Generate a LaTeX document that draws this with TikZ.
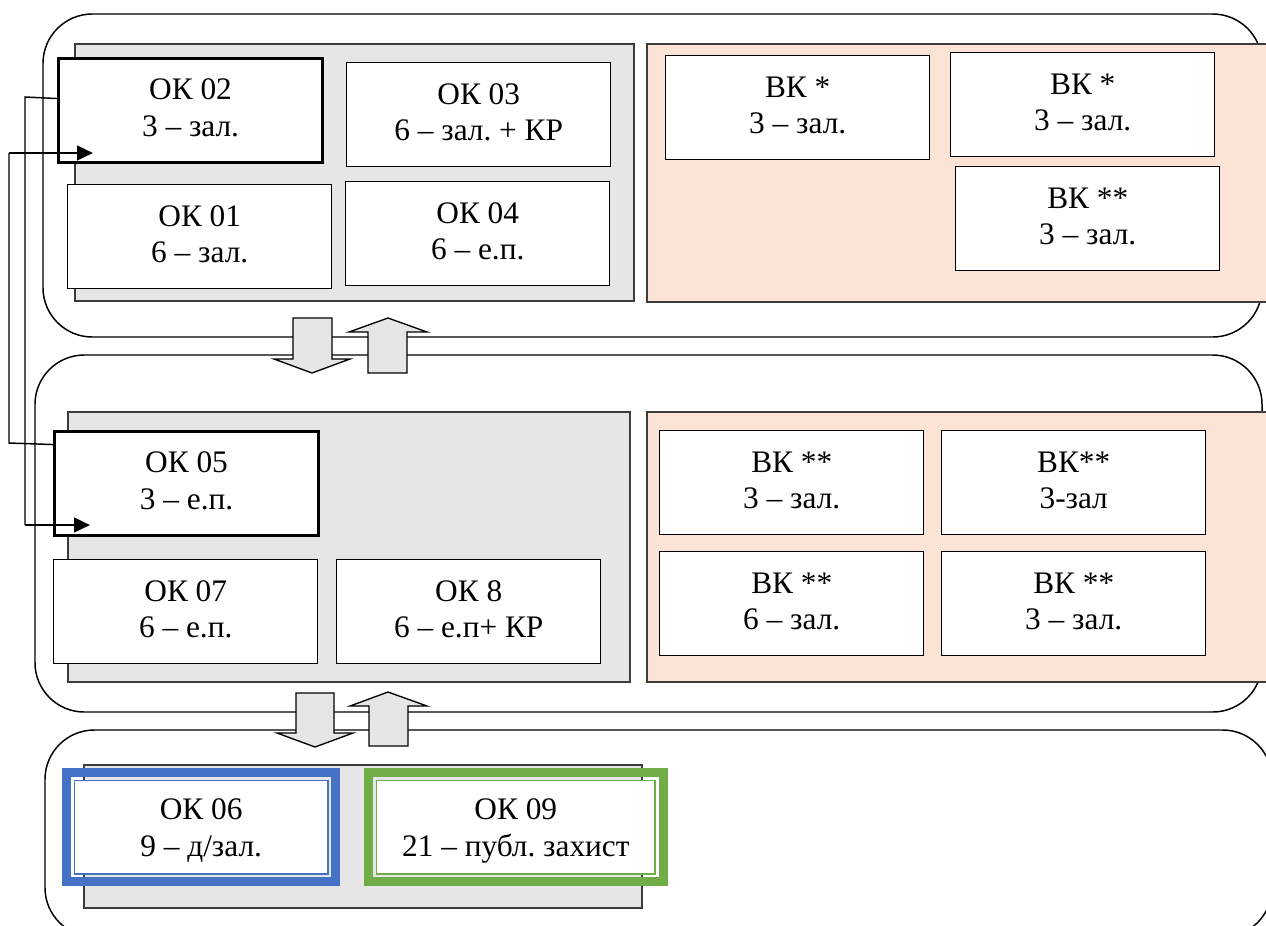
\documentclass[tikz,border=0pt]{standalone}
\usepackage{fontspec}
\setmainfont{Liberation Serif}
\usetikzlibrary{arrows.meta,calc,positioning}
\definecolor{panelgray}{RGB}{230,230,230}
\definecolor{panelpink}{RGB}{251,228,214}
\definecolor{framegray}{RGB}{60,60,60}
\definecolor{ok06color}{RGB}{68,114,196}
\definecolor{ok09color}{RGB}{112,173,71}
\frenchspacing

\begin{document}
\begin{tikzpicture}[
        x=0.75pt, y=-0.75pt,
        stage/.style={draw=black, line width=1.1pt, rounded corners=37pt},
        panel/.style={draw=framegray, line width=1pt},
        okbox/.style={rectangle, draw=black, line width=1.1pt, fill=white, minimum width=198pt, minimum height=78pt, inner sep=0pt, align=center, anchor=north west, text height=47.5pt, text depth=8.5pt, font=\fontsize{23.5}{27.5}\selectfont},
        mainbox/.style={okbox, line width=2.3pt},
        dblbox/.style={okbox, draw=#1, line width=1.1pt, minimum height=70pt, text depth=3.7pt},
        dblframe/.style={draw=#1, line width=6.75pt},
        blockarrow/.style={draw=black, line width=1pt, fill=panelgray, line join=miter},
        link/.style={line width=1.1pt},
        linkarrow/.style={line width=1.9pt, -{Triangle[length=12pt,width=11pt]}}
    ]
        \useasboundingbox (0,0) rectangle (1266,925);
        \clip (0,0) rectangle (1266,925);

        % three stages
        \draw[stage] (43,14) rectangle (1262,337);
        \draw[stage] (35,355) rectangle (1262,712);
        \draw[stage] (45,730) rectangle (1272,937);

        % panels
        \draw[panel, fill=panelgray] (75,44) rectangle (634,301);
        \draw[panel, fill=panelpink] (647,44) rectangle (1275,302);
        \draw[panel, fill=panelgray] (68,412) rectangle (630,682);
        \draw[panel, fill=panelpink] (647,412) rectangle (1275,682);
        \draw[panel, fill=panelgray] (84,765) rectangle (642,908);

        % first stage
        \node[mainbox] (ok02) at (57,57) {ОК 02\\3 – зал.};
        \node[okbox] (ok03) at (346,62) {ОК 03\\6 – зал. + КР};
        \node[okbox] (ok01) at (67,184) {ОК 01\\6 – зал.};
        \node[okbox] (ok04) at (345,181) {ОК 04\\6 – е.п.};
        \node[okbox] (vk1) at (665,55) {ВК *\\3 – зал.};
        \node[okbox] (vk2) at (950,52) {ВК *\\3 – зал.};
        \node[okbox] (vk3) at (955,166) {ВК **\\3 – зал.};

        % second stage
        \node[mainbox] (ok05) at (53,430) {ОК 05\\3 – е.п.};
        \node[okbox] (ok07) at (53,559) {ОК 07\\6 – е.п.};
        \node[okbox] (ok8) at (336,559) {ОК 8\\6 – е.п+ КР};
        \node[okbox] (vk4) at (659,430) {ВК **\\3 – зал.};
        \node[okbox] (vk5) at (941,430) {ВК**\\3-зал};
        \node[okbox] (vk6) at (659,551) {ВК **\\6 – зал.};
        \node[okbox] (vk7) at (941,551) {ВК **\\3 – зал.};

        % third stage
        \node[dblbox=ok06color, minimum width=190pt] (ok06) at (73.75,779.75) {ОК 06\\9 – д/зал.};
        \node[dblbox=ok09color, minimum width=209pt] (ok09) at (375.75,779.75) {ОК 09\\21 – публ. захист};
        \draw[dblframe=ok06color] ($(ok06.north west)+(-7.25,-7.25)$) rectangle ($(ok06.south east)+(7.25,7.25)$);
        \draw[dblframe=ok09color] ($(ok09.north west)+(-7.25,-7.25)$) rectangle ($(ok09.south east)+(7.25,7.25)$);

        % block arrows between stages
        \draw[blockarrow] (293,318) -- (332,318) -- (332,359) -- (350,359) -- (312,373) -- (274,359) -- (293,359) -- cycle;
        \draw[blockarrow] (368,373) -- (407,373) -- (407,332) -- (427,332) -- (388,318) -- (349,332) -- (368,332) -- cycle;
        \draw[blockarrow] (296,693) -- (334,693) -- (334,733) -- (353,733) -- (315,747) -- (277,733) -- (296,733) -- cycle;
        \draw[blockarrow] (369,746) -- (408,746) -- (408,706) -- (427,706) -- (388,692) -- (350,706) -- (369,706) -- cycle;

        % links on the left
        \coordinate (linkA) at (25,97);
        \coordinate (linkAb) at (25,525);
        \coordinate (tipA) at (90,525);
        \coordinate (linkB) at (9,443);
        \coordinate (linkBt) at (9,153);
        \coordinate (tipB) at (93,153);
        \draw[link] ([yshift=9pt]ok02.west) -- (linkA) -- (linkAb);
        \draw[linkarrow] (linkAb) -- (tipA);
        \draw[link] ([yshift=29.25pt]ok05.west) -- (linkB) -- (linkBt);
        \draw[linkarrow] (linkBt) -- (tipB);
    \end{tikzpicture}
\end{document}
